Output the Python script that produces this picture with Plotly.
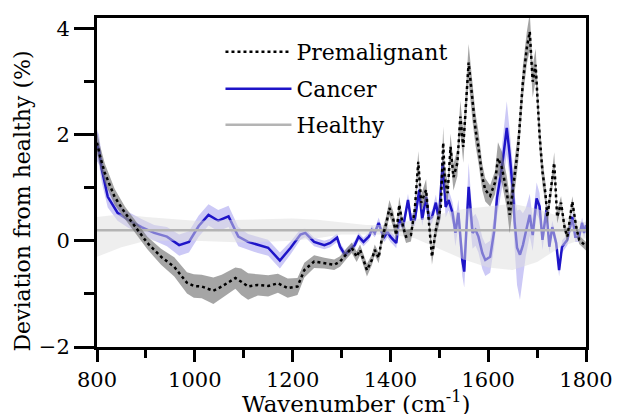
import plotly.graph_objects as go

# ---------------- data ----------------
prem_wn = [800, 806, 816, 836, 857, 883, 903, 931, 958, 984,
           998, 1014, 1038, 1055, 1083, 1095, 1109, 1129, 1150, 1170,
           1190, 1210, 1224, 1244, 1265, 1285, 1297, 1311, 1321, 1331,
           1338, 1352, 1362, 1368, 1376, 1382, 1392, 1398, 1406, 1412,
           1418, 1426, 1432, 1442, 1450, 1457, 1463, 1473, 1479, 1485,
           1493, 1503, 1508, 1511, 1517, 1523, 1529, 1537, 1543, 1549,
           1560, 1568, 1574, 1580, 1588, 1594, 1604, 1614, 1620, 1628,
           1638, 1644, 1650, 1661, 1671, 1679, 1685, 1691, 1697, 1705,
           1711, 1717, 1721, 1729, 1735, 1741, 1749, 1756, 1762, 1772,
           1780, 1786, 1792, 1800]
prem_val = [1.85, 1.6, 1.28, 0.83, 0.53, 0.21, -0.04, -0.30, -0.49, -0.79,
            -0.85, -0.86, -0.94, -0.86, -0.70, -0.77, -0.86, -0.83, -0.85, -0.80,
            -0.89, -0.86, -0.55, -0.39, -0.42, -0.45, -0.39, -0.23, -0.13, -0.30,
            -0.17, -0.55, -0.36, -0.17, -0.32, 0.02, 0.34, 0.62, 0.40, 0.11,
            0.68, 0.26, 0.08, 0.11, 0.60, 1.49, 0.72, 0.96, 0.40, -0.30,
            0.21, 0.64, 1.85, 1.2, 0.9, 1.77, 1.2, 1.47, 2.34, 1.77,
            3.36, 2.6, 2.1, 1.77, 1.2, 0.96, 0.85, 1.1, 1.56, 1.38,
            0.92, 0.49, 0.92, 1.75, 3.0, 3.64, 3.94, 3.0, 3.32, 2.0,
            1.3, 0.9, 0.45, 1.0, 1.47, 0.45, 0.72, 0.26, 0.08, 0.74,
            0.26, 0.02, -0.04, -0.1]
prem_sd = [0.2, 0.2, 0.18, 0.15, 0.12, 0.12, 0.12, 0.15, 0.18, 0.2,
           0.22, 0.22, 0.25, 0.22, 0.2, 0.25, 0.25, 0.2, 0.2, 0.18,
           0.18, 0.16, 0.14, 0.12, 0.1, 0.1, 0.1, 0.1, 0.1, 0.1,
           0.1, 0.12, 0.1, 0.1, 0.1, 0.12, 0.15, 0.15, 0.15, 0.12,
           0.15, 0.12, 0.12, 0.12, 0.15, 0.2, 0.15, 0.2, 0.15, 0.15,
           0.15, 0.2, 0.3, 0.25, 0.2, 0.25, 0.25, 0.25, 0.3, 0.3,
           0.35, 0.35, 0.3, 0.3, 0.25, 0.22, 0.2, 0.22, 0.3, 0.3,
           0.3, 0.35, 0.3, 0.3, 0.3, 0.3, 0.35, 0.3, 0.3, 0.3,
           0.25, 0.2, 0.15, 0.15, 0.2, 0.12, 0.12, 0.1, 0.1, 0.1,
           0.08, 0.08, 0.08, 0.08]

canc_wn = [800, 804, 810, 822, 842, 863, 891, 917, 943, 968,
           988, 1008, 1028, 1048, 1069, 1089, 1109, 1129, 1150, 1174,
           1196, 1216, 1226, 1244, 1265, 1277, 1291, 1297, 1307, 1317,
           1327, 1335, 1345, 1356, 1362, 1368, 1376, 1382, 1388, 1394,
           1400, 1406, 1412, 1418, 1426, 1436, 1442, 1450, 1459, 1465,
           1473, 1479, 1485, 1493, 1499, 1507, 1513, 1519, 1527, 1533,
           1539, 1547, 1551, 1555, 1560, 1568, 1574, 1580, 1588, 1594,
           1604, 1612, 1618, 1628, 1638, 1644, 1650, 1654, 1659, 1665,
           1671, 1677, 1685, 1691, 1699, 1705, 1711, 1719, 1725, 1731,
           1739, 1745, 1751, 1762, 1772, 1778, 1786, 1792, 1796, 1800]
canc_val = [1.8, 1.72, 1.34, 0.83, 0.53, 0.40, 0.26, 0.15, 0.08, -0.08,
            -0.02, 0.28, 0.49, 0.38, 0.46, 0.08, -0.02, -0.08, -0.13, -0.37,
            -0.13, 0.12, 0.15, -0.02, -0.08, -0.04, 0.06, -0.11, -0.26, -0.17,
            -0.08, 0.08, -0.02, 0.08, 0.21, 0.15, 0.34, 0.17, 0.08, 0.17,
            0.08, 0.02, -0.04, 0.40, 0.26, 0.77, 0.40, 0.40, 0.96, 0.40,
            0.83, 0.40, 0.45, 0.72, 0.40, 1.47, 0.64, 0.77, 0.53, 0.15,
            0.53, -0.36, -0.58, 0.15, 1.02, 0.15, 0.21, 0.08, -0.23, -0.36,
            -0.30, 0.17, 0.81, 1.38, 2.13, 1.62, 1.0, 0.36, -0.13, -0.26,
            -0.08, 0.17, 0.49, 0.11, 0.8, 0.65, 0.02, 0.58, -0.11, 0.26,
            -0.04, -0.55, -0.11, 0.02, 0.45, 0.08, 0.08, 0.34, 0.15, 0.3]
canc_sd = [0.3, 0.28, 0.25, 0.2, 0.15, 0.15, 0.15, 0.15, 0.18, 0.2,
           0.2, 0.2, 0.2, 0.2, 0.2, 0.18, 0.15, 0.15, 0.15, 0.15,
           0.12, 0.1, 0.08, 0.08, 0.08, 0.08, 0.08, 0.08, 0.08, 0.08,
           0.08, 0.08, 0.08, 0.08, 0.08, 0.08, 0.1, 0.1, 0.1, 0.1,
           0.1, 0.1, 0.1, 0.1, 0.1, 0.12, 0.12, 0.12, 0.15, 0.12,
           0.15, 0.12, 0.12, 0.15, 0.15, 0.25, 0.2, 0.2, 0.2, 0.25,
           0.25, 0.3, 0.3, 0.35, 0.45, 0.3, 0.3, 0.3, 0.3, 0.3,
           0.3, 0.3, 0.35, 0.4, 0.5, 0.45, 0.45, 0.5, 0.7, 0.85,
           0.6, 0.45, 0.4, 0.3, 0.3, 0.25, 0.2, 0.15, 0.12, 0.12,
           0.12, 0.12, 0.12, 0.1, 0.1, 0.1, 0.1, 0.1, 0.1, 0.1]

healthy_wn = [800, 850, 900, 1000, 1100, 1200, 1250, 1300, 1350,
              1400, 1450, 1500, 1550, 1600, 1650, 1700, 1750, 1800]
healthy_val = [0.2] * len(healthy_wn)
healthy_upper = [0.45, 0.5, 0.45, 0.38, 0.4, 0.42, 0.4, 0.35, 0.3,
                 0.3, 0.4, 0.5, 0.6, 0.65, 0.7, 0.6, 0.45, 0.35]
healthy_lower = [-0.3, -0.12, 0.0, 0.0, -0.03, 0.0, 0.05, 0.12, 0.12,
                 0.12, 0.05, -0.15, -0.35, -0.5, -0.55, -0.4, -0.1, 0.05]

x_ticks = [800, 1000, 1200, 1400, 1600, 1800]
y_ticks = [-2, 0, 2, 4]

# ---------------- figure ----------------
FONT = "DejaVu Serif"
CANCER = "rgb(30,20,200)"

fig = go.Figure()

def band(x, lo, hi, color):
    fig.add_trace(go.Scatter(x=x, y=lo, mode="lines", line=dict(width=0),
                             showlegend=False, hoverinfo="skip"))
    fig.add_trace(go.Scatter(x=x, y=hi, mode="lines", line=dict(width=0),
                             fill="tonexty", fillcolor=color,
                             showlegend=False, hoverinfo="skip"))

canc_lo = [v - s for v, s in zip(canc_val, canc_sd)]
canc_hi = [v + s for v, s in zip(canc_val, canc_sd)]
prem_lo = [v - s for v, s in zip(prem_val, prem_sd)]
prem_hi = [v + s for v, s in zip(prem_val, prem_sd)]

band(canc_wn, canc_lo, canc_hi, "rgba(110,100,230,0.35)")
fig.add_trace(go.Scatter(x=canc_wn, y=canc_val, mode="lines", name="Cancer",
                         line=dict(color=CANCER, width=2.5), legend="legend2"))
band(healthy_wn, healthy_lower, healthy_upper, "rgba(222,222,222,0.5)")
fig.add_trace(go.Scatter(x=healthy_wn, y=healthy_val, mode="lines", name="Healthy",
                         line=dict(color="rgb(180,180,180)", width=2.5), legend="legend3"))
band(prem_wn, prem_lo, prem_hi, "rgba(110,110,110,0.62)")
fig.add_trace(go.Scatter(x=prem_wn, y=prem_val, mode="lines", name="Premalignant",
                         line=dict(color="black", width=2.5, dash="dot"), legend="legend"))

axis_common = dict(showline=True, linecolor="black", linewidth=3, mirror=True,
                   ticks="outside", tickwidth=3, tickcolor="black",
                   showgrid=False, zeroline=False,
                   tickfont=dict(family=FONT, size=21, color="black"))

fig.update_xaxes(range=[800, 1800], tickvals=x_ticks, ticklen=12,
                 minor=dict(dtick=100, tick0=800, ticklen=8, tickwidth=3,
                            tickcolor="black", ticks="outside"),
                 **axis_common)
fig.update_yaxes(range=[-2, 4.2], tickvals=y_ticks, ticklen=20,
                 minor=dict(dtick=1, tick0=-2, ticklen=10, tickwidth=3,
                            tickcolor="black", ticks="outside"),
                 **axis_common)

fig.add_annotation(text="Wavenumber (cm<sup>-1</sup>)", xref="paper", yref="paper",
                   x=0.529, y=-0.166, xanchor="center", yanchor="middle",
                   showarrow=False, font=dict(family=FONT, size=23, color="black"))
fig.add_annotation(text="Deviation from healthy (%)", xref="paper", yref="paper",
                   x=-0.152, y=0.444, xanchor="center", yanchor="middle", textangle=-90,
                   showarrow=False, font=dict(family=FONT, size=22, color="black"))

leg_common = dict(xanchor="left", yanchor="middle", bgcolor="rgba(0,0,0,0)",
                  borderwidth=0, itemwidth=66,
                  font=dict(family=FONT, size=22, color="black"))
LX = 0.2525
fig.update_layout(
    width=625, height=414,
    margin=dict(l=97, r=33, t=18, b=67),
    paper_bgcolor="white", plot_bgcolor="white",
    font=dict(family=FONT, color="black"),
    showlegend=True,
    legend=dict(x=LX, y=0.8967, **leg_common),
    legend2=dict(x=LX, y=0.7842, **leg_common),
    legend3=dict(x=LX, y=0.6748, **leg_common),
)

fig.write_html("out.html")
